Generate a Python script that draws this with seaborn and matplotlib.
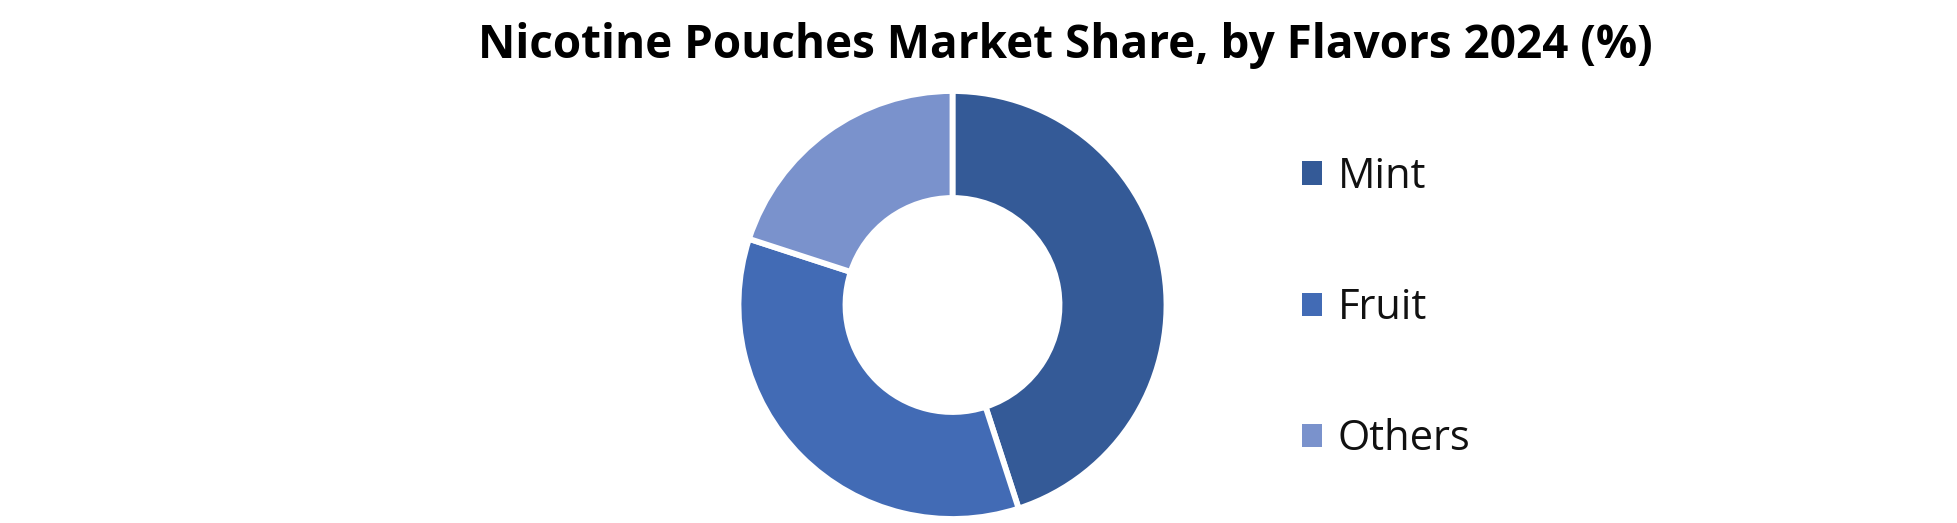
import matplotlib
matplotlib.use("Agg")
import matplotlib.pyplot as plt
from matplotlib.patches import Patch
import seaborn as sns

# data
flavors = ["Mint", "Fruit", "Others"]
shares = [45, 35, 20]
colors_hex = ["#345A97", "#426BB5", "#7A92CC"]
title = "Nicotine Pouches Market Share, by Flavors 2024 (%)"


def main():
    sns.set_theme(style="white")
    plt.rcParams["font.family"] = ["Open Sans", "DejaVu Sans"]

    W, H, dpi = 1958, 523, 100
    fig = plt.figure(figsize=(W / dpi, H / dpi), dpi=dpi)
    fig.patch.set_facecolor("white")

    palette = sns.color_palette(colors_hex)

    # donut: centre (952.5, 305) px, outer radius ~214 px incl. white stroke
    cx, cy, r = 952.5, 305, 214
    ax = fig.add_axes([(cx - r) / W, (H - cy - r) / H, 2 * r / W, 2 * r / H])
    wedges, _ = ax.pie(
        shares,
        colors=palette,
        startangle=90,
        counterclock=False,
        radius=1,
        wedgeprops={"width": 0.5, "edgecolor": "white", "linewidth": 4.2},
    )
    ax.set_xlim(-1, 1)
    ax.set_ylim(-1, 1)
    ax.set_aspect("equal")
    ax.axis("off")

    fig.text(1065 / W, (H - 58) / H, title, ha="center", va="baseline",
             fontsize=33, fontweight="bold", color="black")

    handles = [Patch(facecolor=c, edgecolor="none") for c in palette]
    fig.legend(
        handles, flavors,
        loc="center left",
        bbox_to_anchor=(1302 / W, (H - 308) / H),
        frameon=False,
        fontsize=30,
        labelcolor="#111111",
        handlelength=0.48,
        handleheight=0.48,
        handletextpad=0.38,
        labelspacing=2.14,
        borderpad=0,
        borderaxespad=0,
    )

    fig.savefig("out.png", dpi=dpi, facecolor="white")
    plt.close(fig)


if __name__ == "__main__":
    main()
